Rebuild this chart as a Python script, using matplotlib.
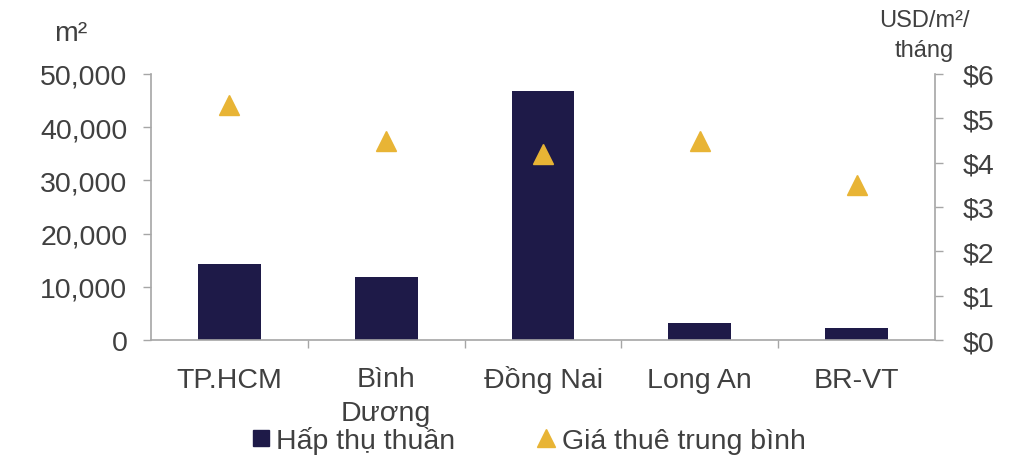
import matplotlib
matplotlib.use('Agg')
import matplotlib.pyplot as plt
import matplotlib.transforms as mtransforms
from matplotlib.lines import Line2D
from matplotlib.ticker import FuncFormatter

plt.rcParams['font.family'] = ['Liberation Sans', 'DejaVu Sans']

# Net absorption (m2) and average rent (USD/m2/month) by province
provinces = ['TP.HCM', 'Bình\nDương', 'Đồng Nai', 'Long An', 'BR-VT']
absorption = [14300, 11900, 46800, 3200, 2200]
avg_rent = [5.3, 4.5, 4.2, 4.5, 3.5]

bar_color = '#1e1a48'
tri_color = '#e8b435'
axis_color = '#a6a6a6'
text_color = '#404040'
fs = 20.5

fig = plt.figure(figsize=(10.22, 4.6), dpi=100)
ax = fig.add_axes([151 / 1022, 1 - 341 / 460, (935 - 151) / 1022, (341 - 75) / 460])
ax2 = ax.twinx()

x = list(range(len(provinces)))
ax.bar(x, absorption, width=0.4, color=bar_color, zorder=2)
ax2.plot(x, avg_rent, linestyle='none', marker='^', markersize=15,
         color=tri_color, zorder=3)

ax.set_xlim(-0.5, len(provinces) - 0.5)
ax.set_ylim(0, 50000)
ax.set_yticks(range(0, 50001, 10000))
ax.yaxis.set_major_formatter(FuncFormatter(lambda v, p: f'{int(v):,}'))
ax2.set_ylim(0, 6)
ax2.set_yticks(range(0, 7))
ax2.yaxis.set_major_formatter(FuncFormatter(lambda v, p: f'${int(v)}'))

# only boundary ticks on the x axis, names are placed by hand below
ax.set_xticks([i + 0.5 for i in x[:-1]])
ax.set_xticklabels([])
ax.tick_params(axis='x', length=6, width=1, color=axis_color)

# first lines of all names share one baseline
base = mtransforms.blended_transform_factory(ax.transData, ax.transAxes)
line_step = 33
for i, name in enumerate(provinces):
    extra = (name.count('\n')) * line_step
    tr = mtransforms.offset_copy(base, fig=fig, y=-(47 + extra), units='dots')
    ax.text(i, 0, name, transform=tr, ha='center', va='baseline', fontsize=fs,
            color=text_color, linespacing=1.42, multialignment='center')

ax.tick_params(axis='y', labelsize=fs, labelcolor=text_color, length=6,
               width=1, color=axis_color, pad=11)
ax2.tick_params(axis='y', labelsize=fs, labelcolor=text_color, length=6,
                width=1, color=axis_color, pad=14)

for a in (ax, ax2):
    a.spines['top'].set_visible(False)
    for s in ('left', 'right', 'bottom'):
        a.spines[s].set_color(axis_color)
        a.spines[s].set_linewidth(1.2)
ax.spines['right'].set_visible(False)
ax2.spines['left'].set_visible(False)
ax2.spines['bottom'].set_visible(False)

fig.text(71 / 1022, 1 - 34 / 460, 'm²', fontsize=fs, color=text_color,
         ha='center', va='center')
fig.text(924 / 1022, 1 - 36 / 460, 'USD/m²/\ntháng', fontsize=17,
         color=text_color, ha='center', va='center', linespacing=1.5)

handles = [
    Line2D([], [], linestyle='none', marker='s', markersize=11, color=bar_color),
    Line2D([], [], linestyle='none', marker='^', markersize=13, color=tri_color),
]
fig.legend(handles, ['Hấp thụ thuần', 'Giá thuê trung bình'], loc='center',
           bbox_to_anchor=(529 / 1022, 1 - 441 / 460), ncol=2, frameon=False,
           fontsize=fs, handlelength=0.6, handletextpad=0.25,
           columnspacing=2.9, labelcolor=text_color, borderpad=0)

fig.savefig('out.png', dpi=100)
